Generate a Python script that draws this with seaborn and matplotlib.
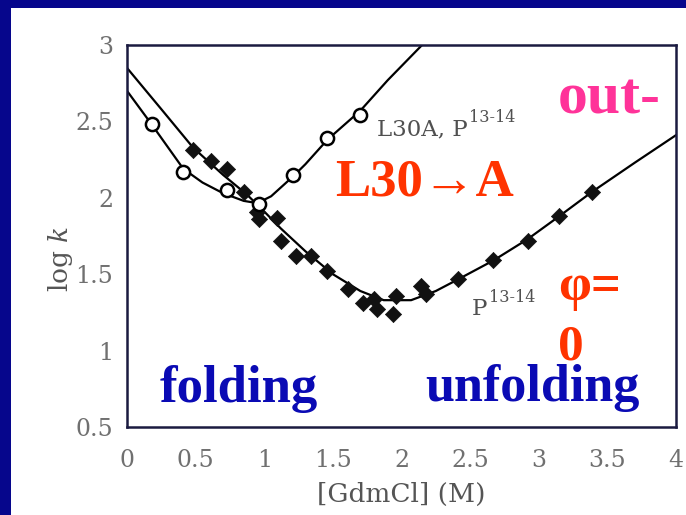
import matplotlib
matplotlib.use("Agg")
import matplotlib.pyplot as plt
import seaborn as sns
from matplotlib.patches import Rectangle

# ---------------- data ----------------
# P13-14 (filled diamonds)
p_x = [0.48, 0.61, 0.73, 0.85, 0.95, 0.96, 1.09, 1.12, 1.23, 1.34, 1.46, 1.61,
       1.72, 1.80, 1.82, 1.96, 1.94, 2.14, 2.18, 2.41, 2.67, 2.92, 3.15, 3.39]
p_y = [2.31, 2.24, 2.19, 2.04, 1.91, 1.86, 1.87, 1.72, 1.62, 1.62, 1.52, 1.40,
       1.31, 1.34, 1.27, 1.36, 1.24, 1.42, 1.37, 1.47, 1.59, 1.72, 1.88, 2.04]
# L30A, P13-14 (open circles)
l_x = [0.18, 0.41, 0.73, 0.96, 1.21, 1.46, 1.70]
l_y = [2.48, 2.17, 2.05, 1.96, 2.15, 2.39, 2.54]
# fitted chevron curves
p_fit_x = [0, 0.25, 0.48, 0.7, 0.875, 1.0, 1.12, 1.3, 1.5, 1.7, 1.87, 2.07,
           2.25, 2.42, 2.67, 2.92, 3.15, 3.39, 3.7, 4.0]
p_fit_y = [2.85, 2.58, 2.33, 2.15, 2.02, 1.91, 1.80, 1.65, 1.50, 1.39, 1.33, 1.33,
           1.39, 1.47, 1.59, 1.73, 1.88, 2.04, 2.23, 2.41]
l_fit_x = [0, 0.18, 0.41, 0.55, 0.7, 0.85, 0.95, 1.05, 1.21, 1.3, 1.46, 1.70, 1.9, 2.15]
l_fit_y = [2.70, 2.48, 2.19, 2.10, 2.03, 1.98, 1.965, 2.01, 2.14, 2.22, 2.38, 2.57, 2.77, 3.0]

x_ticks = [0, 0.5, 1, 1.5, 2, 2.5, 3, 3.5, 4]
x_tick_labels = ["0", "0.5", "1", "1.5", "2", "2.5", "3", "3.5", "4"]
y_ticks = [0.5, 1, 1.5, 2, 2.5, 3]
y_tick_labels = ["0.5", "1", "1.5", "2", "2.5", "3"]

# ---------------- style ----------------
sns.set_style("white")
plt.rcParams["font.family"] = ["DejaVu Serif"]
plt.rcParams["mathtext.fontset"] = "custom"
plt.rcParams["mathtext.rm"] = "DejaVu Serif"
plt.rcParams["mathtext.it"] = "DejaVu Serif:italic"

W, H = 686, 515
fig = plt.figure(figsize=(W / 100, H / 100), dpi=100, facecolor="#06068c")
bg = Rectangle((11 / W, 0), 1 - 11 / W, 1 - 8 / H, transform=fig.transFigure,
               facecolor="white", edgecolor="none", zorder=-5)
fig.add_artist(bg)

ax = fig.add_axes([127 / W, 88 / H, 549 / W, 382 / H])
ax.set_facecolor("white")

sns.lineplot(x=l_fit_x, y=l_fit_y, ax=ax, color="black", lw=1.6, sort=False,
             estimator=None, zorder=2)
sns.lineplot(x=p_fit_x, y=p_fit_y, ax=ax, color="black", lw=1.6, sort=False,
             estimator=None, zorder=2)
sns.scatterplot(x=p_x, y=p_y, ax=ax, marker="D", s=68, color="#111111",
                edgecolor="#111111", linewidth=0.5, zorder=3)
sns.scatterplot(x=l_x, y=l_y, ax=ax, marker="o", s=90, facecolor="white",
                edgecolor="black", linewidth=1.8, zorder=3)

ax.set_xlim(0, 4)
ax.set_ylim(0.5, 3)
ax.set_xticks(x_ticks)
ax.set_xticklabels(x_tick_labels)
ax.set_yticks(y_ticks)
ax.set_yticklabels(y_tick_labels)
ax.tick_params(axis="both", direction="in", length=14, width=1.6,
               color="#1a1a40", labelsize=17, labelcolor="#707070")
ax.tick_params(axis="x", pad=16)
ax.tick_params(axis="y", pad=10)
for s in ax.spines.values():
    s.set_color("#1a1a40")
    s.set_linewidth(1.8)
    s.set_visible(True)

ax.set_xlabel("[GdmCl] (M)", fontsize=19, color="#555555")
ax.xaxis.set_label_coords(0.5, -0.144)
ax.set_ylabel(r"log $\mathit{k}$", fontsize=19, color="#555555")
ax.yaxis.set_label_coords(-0.095, 0.44)

# curve labels (gray, scanned style)
t1 = fig.text(377 / W, 1 - 135 / H, "L30A, P", fontsize=16.5, color="#505050",
              ha="left", va="baseline")
ax.annotate("13-14", xy=(1, 1), xycoords=t1, xytext=(1, -3), textcoords="offset points",
            fontsize=11.5, color="#505050", ha="left", va="baseline")
t2 = fig.text(472 / W, 1 - 315 / H, "P", fontsize=16.5, color="#505050",
              ha="left", va="baseline")
ax.annotate("13-14", xy=(1, 1), xycoords=t2, xytext=(1, -3), textcoords="offset points",
            fontsize=11.5, color="#505050", ha="left", va="baseline")

# coloured slide annotations
bold = dict(family=["Liberation Serif", "DejaVu Serif"], fontweight="bold",
            ha="left", va="baseline")
fig.text(558 / W, 1 - 113 / H, "out-", fontsize=43, color="#ff3399", **bold)
fig.text(335 / W, 1 - 195 / H, "L30\u2192A", fontsize=38, color="#ff3300", **bold)
fig.text(558 / W, 1 - 300 / H, "\u03c6=", fontsize=38, color="#ff3300", **bold)
fig.text(558 / W, 1 - 359 / H, "0", fontsize=37, color="#ff3300", **bold)
fig.text(160 / W, 1 - 402 / H, "folding", fontsize=38, color="#0a0ab4", **bold)
fig.text(425 / W, 1 - 401 / H, "unfolding", fontsize=37.5, color="#0a0ab4", **bold)

fig.savefig("out.png", dpi=100, facecolor=fig.get_facecolor())
